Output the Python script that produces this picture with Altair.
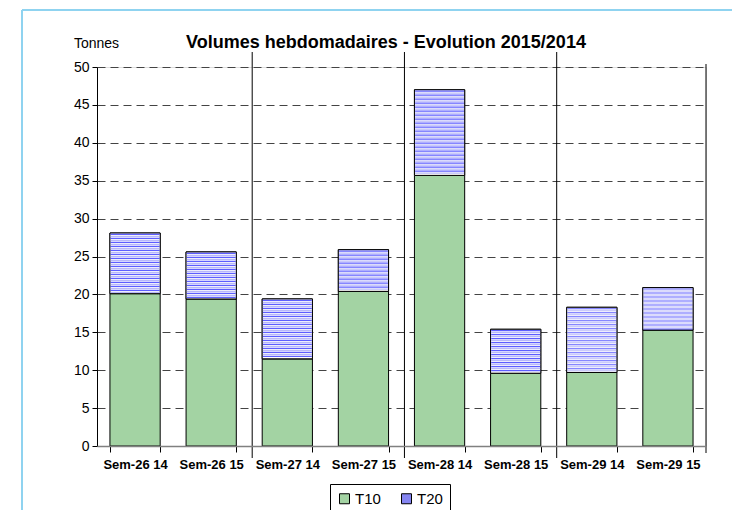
import altair as alt
import pandas as pd

categories = ["Sem-26 14", "Sem-26 15", "Sem-27 14", "Sem-27 15",
              "Sem-28 14", "Sem-28 15", "Sem-29 14", "Sem-29 15"]
t10 = [20.1, 19.4, 11.5, 20.4, 35.7, 9.6, 9.7, 15.3]
t20 = [8.0, 6.2, 7.9, 5.5, 11.3, 5.8, 8.6, 5.6]
series = ["T10", "T20"]
y_ticks = list(range(0, 51, 5))
separators = ["Sem-27 14", "Sem-28 14", "Sem-29 14"]
title_text = "Volumes hebdomadaires - Evolution 2015/2014"

FONT = "Liberation Sans"
GREEN = "#a3d3a3"
BLUE = "#8585f2"
W, H = 609, 379
YMAX = 50

long_df = pd.DataFrame({
    "cat": categories * 2,
    "series": ["T10"] * len(categories) + ["T20"] * len(categories),
    "value": t10 + t20,
    "ord": [0] * len(categories) + [1] * len(categories),
})
wide_df = pd.DataFrame({"cat": categories, "t10": t10,
                        "total": [a + b for a, b in zip(t10, t20)]})

# horizontal hatch lines of the T20 fill pattern (about one every 4 px)
step = 4.0 * YMAX / H
hatch_rows = []
for c, lo, h in zip(categories, t10, t20):
    hi = lo + h
    k = 0
    while True:
        yd = hi - (k + 0.35) * step
        yl = hi - (k + 0.85) * step
        if yd > lo + 0.12:
            hatch_rows.append({"cat": c, "y": yd, "kind": "dark"})
        if yl > lo + 0.12:
            hatch_rows.append({"cat": c, "y": yl, "kind": "light"})
        if yd <= lo + 0.12:
            break
        k += 1
hatch_df = pd.DataFrame(hatch_rows)

xscale = alt.Scale(domain=categories, paddingInner=0.34, paddingOuter=0.17)
yscale = alt.Scale(domain=[0, YMAX], nice=False)

x_axis = alt.Axis(labelAngle=0, labelFontWeight="bold", labelFontSize=13,
                  labelFont=FONT, labelColor="black", tickBand="extent",
                  tickSize=6, tickColor="black", domainColor="#808080",
                  domainWidth=1.5, labelPadding=6, zindex=1, title=None)
y_axis = alt.Axis(values=y_ticks, grid=True, gridDash=[8, 5], gridColor="#444",
                  gridWidth=1, domainColor="black", tickColor="black",
                  tickSize=5, labelFontSize=14, labelFont=FONT,
                  labelColor="black", labelPadding=3, labelOverlap=False,
                  title="Tonnes", titleAngle=0, titleX=-1, titleY=-24,
                  titleAlign="center", titleBaseline="middle",
                  titleFontWeight="normal", titleFontSize=14, titleFont=FONT,
                  titleColor="black")


def X(field="cat:N", **kw):
    return alt.X(field, scale=xscale, axis=x_axis, **kw)


def Y(field):
    return alt.Y(field, scale=yscale, axis=y_axis)


base = alt.Chart(long_df).mark_bar(stroke="black", strokeWidth=1).encode(
    x=X(),
    y=alt.Y("value:Q", stack="zero", scale=yscale, axis=y_axis),
    color=alt.Color("series:N", scale=alt.Scale(domain=series, range=[GREEN, BLUE]),
                    legend=alt.Legend(orient="none", legendX=233, legendY=417,
                                      direction="horizontal", title=None,
                                      strokeColor="black", fillColor="white",
                                      padding=7, symbolType="square", symbolSize=100,
                                      symbolStrokeColor="black", symbolStrokeWidth=1,
                                      labelFontSize=15, labelFont=FONT,
                                      labelColor="black", columnPadding=18,
                                      labelOffset=3)),
    order=alt.Order("ord:Q"),
)

t20_bg = alt.Chart(wide_df).mark_bar(fill="white", stroke="black", strokeWidth=1).encode(
    x=X(), y=Y("t10:Q"), y2="total:Q")

hatch = alt.Chart(hatch_df).mark_tick(orient="horizontal", thickness=1.1, size=49).encode(
    x=X(), y=Y("y:Q"),
    color=alt.Color("kind:N", scale=alt.Scale(domain=["dark", "light"],
                                              range=["#1a1aff", "#9a9af7"]),
                    legend=None),
)

sep = alt.Chart(pd.DataFrame({"cat": separators})).mark_rule(
    color="black", strokeWidth=1, xOffset=-10).encode(
    x=X(bandPosition=0), y=alt.value(-15), y2=alt.value(391))

one = pd.DataFrame({"a": [0]})
right_line = alt.Chart(one).mark_rule(color="black", strokeWidth=1).encode(
    x=alt.value(W), y=alt.value(-3), y2=alt.value(386))
border_top = alt.Chart(one).mark_rule(color="#8fd3f0", strokeWidth=2).encode(
    x=alt.value(-75), x2=alt.value(640), y=alt.value(-57))
border_left = alt.Chart(one).mark_rule(color="#8fd3f0", strokeWidth=2).encode(
    x=alt.value(-75), y=alt.value(-57), y2=alt.value(470))
title = alt.Chart(one).mark_text(text=title_text, font=FONT, fontSize=18,
                                 fontWeight="bold", color="black",
                                 align="center", baseline="middle").encode(
    x=alt.value(289), y=alt.value(-24))

chart = alt.layer(base, t20_bg, hatch, sep, right_line, border_top, border_left,
                  title).resolve_scale(color="independent").properties(
    width=W, height=H,
    autosize=alt.AutoSizeParams(type="none"),
    padding={"left": 89, "top": 59, "right": 26, "bottom": 64},
).configure_view(stroke=None).configure(background="white")

chart.save("out.html", embed_options={"renderer": "svg", "actions": False})
